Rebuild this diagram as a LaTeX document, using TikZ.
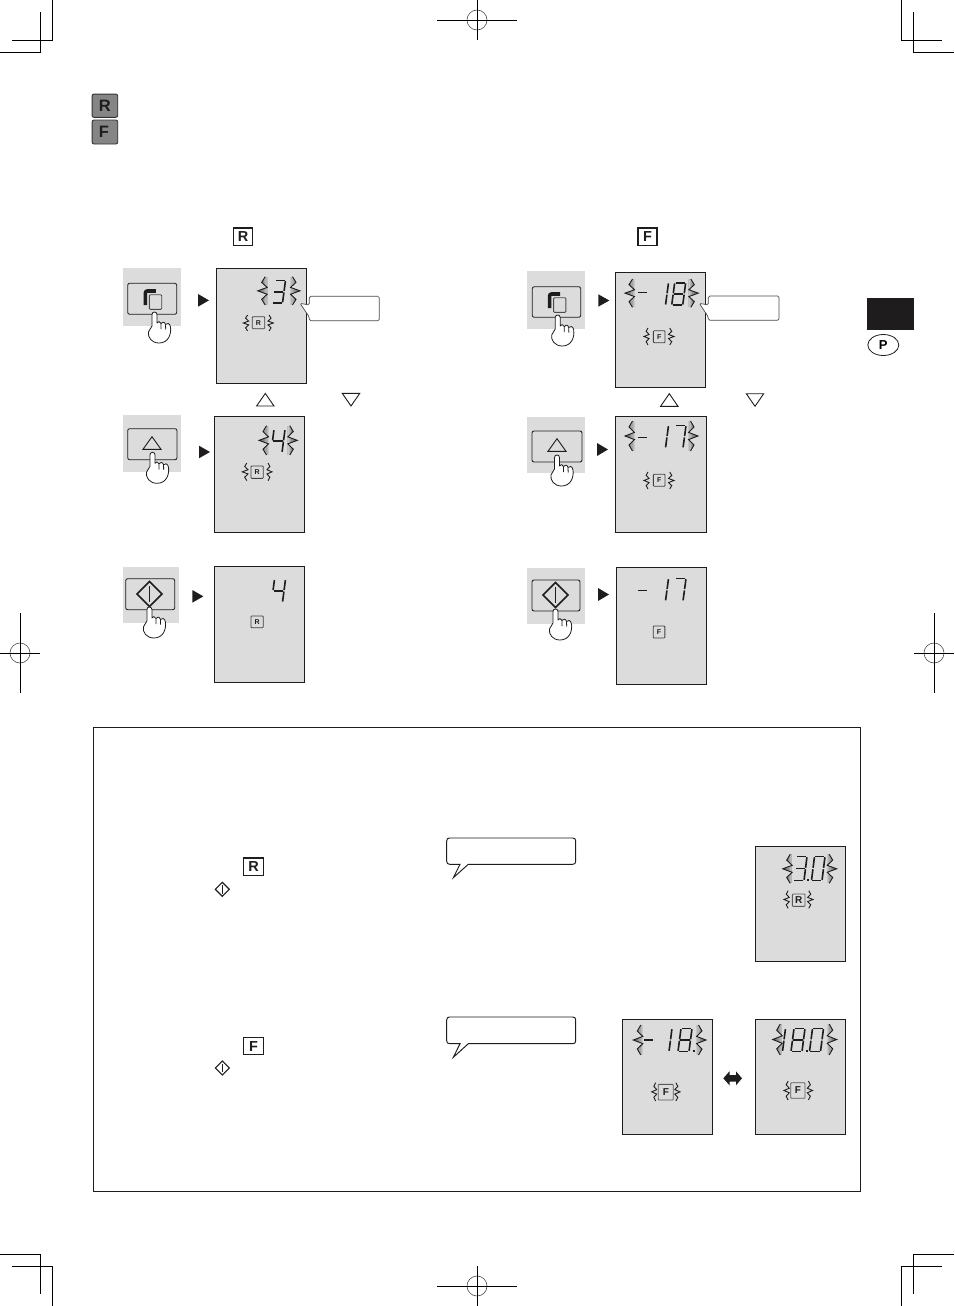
\documentclass[tikz,border=0pt]{standalone}
\usepackage{fontspec}
\setmainfont{Liberation Sans}
\usetikzlibrary{shapes.geometric}
\definecolor{panel}{HTML}{DCDCDC}
\definecolor{glowdark}{HTML}{6E6E6E}
\definecolor{badge}{HTML}{858585}
\definecolor{inkblack}{HTML}{1E1C1C}
\tikzset{
  mark line/.style={draw=black,line width=0.8pt},
  reg circle/.style={draw=black!70,line width=0.6pt},
  lcd/.style={draw=inkblack,fill=panel,line width=0.85pt},
  seg/.style={draw=inkblack,line width=1.6pt,line cap=butt},
  glow line/.style={draw=inkblack,line width=0.9pt,line join=miter},
  keyface/.style={draw=inkblack,fill=panel,line width=0.85pt,rounded corners=2pt},
  keyback/.style={fill=panel,draw=none},
  finger/.style={draw=inkblack,fill=white,line width=0.8pt,line join=round},
  openarrow/.style={draw=inkblack,fill=none,line width=0.9pt,line join=miter},
  playtip/.style={fill=inkblack,draw=none},
  callout/.style={draw=black!70,fill=white,line width=0.7pt,rounded corners=1.5pt},
  bubble/.style={draw=inkblack,fill=white,line width=0.95pt,line join=miter},
  whitekey/.style={draw=inkblack,fill=white,line width=1.2pt,inner sep=0pt,font=\bfseries\fontsize{14.5}{14.5}\selectfont,text=inkblack},
  lcdkey/.style={draw=black!75,fill=panel,line width=0.8pt,rounded corners=0.8pt,inner sep=0pt,text=inkblack,font=\bfseries\fontsize{7}{7}\selectfont},
  lcdkeybig/.style={lcdkey,draw=black!65,font=\bfseries\fontsize{10}{10}\selectfont},
  badgekey/.style={draw=inkblack!90,fill=badge,line width=0.9pt,rounded corners=2pt,inner sep=0pt,text=inkblack,font=\bfseries\fontsize{16.5}{16.5}\selectfont},
}
% seven-segment digit: left, top, width, height, list of lit segments
\newcommand{\segline}[4]{\draw[seg]
  ({\dgx+(\dgw-\dgs)*#1+\dgs*(1-#2)},{\dgy+\dgh*#2}) --
  ({\dgx+(\dgw-\dgs)*#3+\dgs*(1-#4)},{\dgy+\dgh*#4});}
\newcommand{\segA}{\segline{0.08}{0}{0.92}{0}}
\newcommand{\segB}{\segline{1}{0.03}{1}{0.47}}
\newcommand{\segC}{\segline{1}{0.53}{1}{0.97}}
\newcommand{\segD}{\segline{0.08}{1}{0.92}{1}}
\newcommand{\segE}{\segline{0}{0.53}{0}{0.97}}
\newcommand{\segF}{\segline{0}{0.03}{0}{0.47}}
\newcommand{\segG}{\segline{0.08}{0.5}{0.92}{0.5}}
\newcommand{\lcddigit}[5]{%
  \def\dgx{#1}\def\dgy{#2}\def\dgw{#3}\def\dgh{#4}\def\dgs{3}%
  \foreach \sg in {#5} {\csname seg\sg\endcsname}}
% flashing marks beside a value: outer x, inner x, top, bottom
\newcommand{\flickmark}[4]{%
  \begin{scope}[shift={(#1,#3)},x={({(#2-(#1))*1pt},0pt)},y={(0pt,{-(#4-(#3))*1pt})}]
    \draw[glow line] (0.75,0) -- (0.4,0.2) -- (0.95,0.38) -- (0,0.5) -- (0.95,0.62) -- (0.4,0.8) -- (0.75,1);
  \end{scope}}
% the same mark with a stepped glow fading towards the digit
\newcommand{\glowmark}[4]{%
  \begin{scope}[shift={(#1,#3)},x={({(#2-(#1))*1pt},0pt)},y={(0pt,{-(#4-(#3))*1pt})}]
    \begin{scope}
      \clip (0.75,0) -- (0.4,0.2) -- (0.95,0.38) -- (0,0.5) -- (0.95,0.62) -- (0.4,0.8) -- (0.75,1) -- (1,1) -- (1,0) -- cycle;
      \foreach \bu/\bc in {0/100,0.3/85,0.45/70,0.6/50,0.75/35,0.88/18}
        \fill[glowdark!\bc!panel] (\bu,0) rectangle (1,1);
    \end{scope}
    \draw[glow line] (0.75,0) -- (0.4,0.2) -- (0.95,0.38) -- (0,0.5) -- (0.95,0.62) -- (0.4,0.8) -- (0.75,1);
  \end{scope}}
% pointing hand with fingertip at the given point
\newcommand{\tappinghand}[2]{%
  \begin{scope}[shift={(#1,#2)}]
    \draw[finger] (-2.5,14) -- (-2.5,2.5) .. controls (-2.5,-0.8) and (2.5,-0.8) .. (2.5,2.5) -- (2.5,11)
      .. controls (3,9) and (6,9) .. (6.5,11.5)
      .. controls (7,9.5) and (10.5,9.5) .. (11,12.5)
      .. controls (12,10.5) and (15.5,11) .. (16,15)
      .. controls (17,22) and (14,31) .. (4.5,31)
      .. controls (-3,31) and (-7,25) .. (-6,20)
      .. controls (-5.5,17.5) and (-3.5,17) .. (-2.5,14) -- cycle;
    \draw[finger,fill=none] (6.5,11.5) -- (6.6,17) (11,12.5) -- (11.2,17.5);
  \end{scope}}
% key on its grey patch
\newcommand{\keypatch}[8]{%
  \fill[keyback] (#1,#2) rectangle (#3,#4);
  \draw[keyface] (#5,#6) rectangle (#7,#8);}
\newcommand{\copyicon}[2]{%
  \draw[draw=inkblack,line width=3.6pt,rounded corners=2pt] (#1,{#2+14}) -- (#1,#2) -- ({#1+10.5},#2);
  \draw[draw=inkblack!80,fill=panel,line width=0.9pt,rounded corners=1pt] ({#1+4},{#2+3.7}) rectangle ({#1+16.3},{#2+18.3});}
\newcommand{\uptri}[3]{\draw[openarrow] ({#1-#3},{#2+6.3}) -- (#1,{#2-6.3}) -- ({#1+#3},{#2+6.3}) -- cycle;}
\newcommand{\downtri}[3]{\draw[openarrow] ({#1-#3},{#2-6.3}) -- (#1,{#2+6.3}) -- ({#1+#3},{#2-6.3}) -- cycle;}
\newcommand{\powermark}[4]{%
  \draw[draw=inkblack,line width=#4,line join=miter] ({#1-#3},#2) -- (#1,{#2-#3}) -- ({#1+#3},#2) -- (#1,{#2+#3}) -- cycle;
  \draw[draw=inkblack,line width=#4] (#1,{#2-0.62*#3}) -- (#1,{#2+0.62*#3});}
\newcommand{\playtri}[4]{\fill[playtip] (#1,#3) -- (#2,{(#3+#4)/2}) -- (#1,#4) -- cycle;}
% registration target: centre, half length across, half length down
\newcommand{\regmark}[4]{%
  \draw[reg circle] (#1,#2) circle[radius=10pt];
  \draw[mark line] ({#1-#3},#2) -- ({#1+#3},#2) (#1,{#2-#4}) -- (#1,{#2+#4});}
\begin{document}
\begin{tikzpicture}[x=1pt,y=-1pt]
\useasboundingbox (0,0) rectangle (954,1306);
\fill[white] (0,0) rectangle (954,1306);

% trim marks
\draw[mark line] (52,0) -- (52,40) -- (12,40) (40,12) -- (40,52) -- (0,52);
\draw[mark line] (901,0) -- (901,40) -- (942,40) (913,12) -- (913,52) -- (954,52);
\draw[mark line] (0,1254) -- (40,1254) -- (40,1294) (12,1266) -- (52,1266) -- (52,1306);
\draw[mark line] (954,1254) -- (913,1254) -- (913,1294) (942,1266) -- (901,1266) -- (901,1306);
\regmark{477}{20}{40}{20}
\regmark{477}{1286}{40}{20}
\regmark{20}{653}{20}{40}
\regmark{934}{653}{20}{40}

% section badges
\node[badgekey,minimum width=25.7pt,minimum height=23.3pt] (badgeR) at (104.9,105.7) {R};
\node[badgekey,minimum width=25.7pt,minimum height=24pt] (badgeF) at (104.9,132) {\hspace*{-2pt}F};

% language tab
\fill[inkblack] (867,298) rectangle (913.7,330);
\node[ellipse,draw=inkblack,line width=0.8pt,minimum width=31pt,minimum height=21pt,inner sep=0pt,font=\bfseries\fontsize{13}{13}\selectfont] (tabP) at (883.3,345) {P};

% column headings
\node[whitekey,minimum width=19pt,minimum height=17.3pt] (headR) at (243.2,236.7) {R};
\node[whitekey,minimum width=19pt,minimum height=17.3pt] (headF) at (647.5,236.7) {F};

%%% left column
\keypatch{123}{268}{181}{326}{127.7}{283.3}{176.7}{314.3}
\copyicon{145.4}{291}
\tappinghand{154.5}{312}
\playtri{198}{209}{294}{306.7}
\draw[lcd] (216,268.3) rectangle (306,383.3);
\glowmark{257.7}{267.7}{276.7}{305}
\glowmark{300}{290}{276.7}{305}
\lcddigit{272}{280.5}{13.5}{22.5}{A,B,C,D,G}
\node[lcdkey,minimum width=12.4pt,minimum height=12pt] (keyR1) at (258.5,322.7) {R};
\flickmark{243.3}{249}{315}{331}
\flickmark{273.3}{267.7}{315}{331}
\draw[callout] (309.3,305) -- (309.3,296.3) -- (379.3,296.3) -- (379.3,320.7) -- (309.3,320.7) -- (309.3,317) -- (300,303.3) -- cycle;

\uptri{265.3}{399.7}{8.7}
\downtri{351}{399.7}{8.7}

\keypatch{123}{414.7}{181}{471.7}{127.7}{428.7}{177}{459.7}
\uptri{152}{443}{9}
\tappinghand{152.5}{452.3}
\playtri{199}{210}{445.7}{458.3}
\draw[lcd] (214.3,416.3) rectangle (304.3,532.3);
\glowmark{259}{269}{425.7}{455}
\glowmark{297.3}{287.3}{425.7}{455}
\lcddigit{271}{429.5}{14}{23}{B,C,F,G}
\node[lcdkey,minimum width=12.4pt,minimum height=12.3pt] (keyR2) at (257.1,472.2) {R};
\flickmark{242.3}{248.3}{463}{480.7}
\flickmark{272}{266.7}{463}{480.7}

\keypatch{123}{567}{179}{622.7}{125.7}{578.7}{174.7}{609.7}
\powermark{149.5}{594}{12.5}{1.6pt}
\tappinghand{149.4}{607}
\playtri{192.3}{203.3}{590}{602.7}
\draw[lcd] (214.3,566.3) rectangle (304.3,682.3);
\lcddigit{271.5}{579.3}{14}{23}{B,C,F,G}
\node[lcdkey,minimum width=12.4pt,minimum height=11.7pt] (keyR3) at (257.1,621.8) {R};

%%% right column
\keypatch{527}{271}{585}{329}{532.3}{286.7}{580.7}{317.3}
\copyicon{549.6}{294}
\tappinghand{557.7}{315}
\playtri{598.3}{609.3}{294.3}{306.7}
\draw[lcd] (615.3,272.3) rectangle (705.7,387.3);
\glowmark{625}{635}{279}{307.3}
\glowmark{698.3}{688.3}{279}{307.3}
\draw[seg] (637.7,292.5) -- (646.7,292.5);
\lcddigit{654.5}{282.7}{14}{22.5}{B,C}
\lcddigit{671.7}{282.7}{14}{22.5}{A,B,C,D,E,F,G}
\node[lcdkey,minimum width=11.7pt,minimum height=12pt] (keyF1) at (659.2,336.7) {F};
\flickmark{644}{649.3}{328}{345}
\flickmark{674}{668.3}{328}{345}
\draw[callout] (708.3,305) -- (708.3,296) -- (779,296) -- (779,320.3) -- (708.3,320.3) -- (708.3,317) -- (699.3,303.3) -- cycle;

\uptri{669.3}{400}{8.7}
\downtri{755}{400}{8.7}

\keypatch{527}{417}{585}{473}{532}{431}{582}{462}
\uptri{557}{445}{9}
\tappinghand{557}{455}
\playtri{597}{608}{443}{456}
\draw[lcd] (615.3,416.7) rectangle (706.7,532.3);
\glowmark{625}{635}{421}{451}
\glowmark{698}{688}{421}{451}
\draw[seg] (637.7,437.5) -- (646.7,437.5);
\lcddigit{654.5}{425.5}{14}{22.5}{B,C}
\lcddigit{672}{425.5}{14}{22.5}{A,B,C}
\node[lcdkey,minimum width=11.7pt,minimum height=12pt] (keyF2) at (659.2,480.3) {F};
\flickmark{644}{649.3}{472}{489}
\flickmark{674}{668.3}{472}{489}

\keypatch{527}{568}{585}{624}{532}{580}{580}{611}
\powermark{555.5}{595}{12.5}{1.6pt}
\tappinghand{555.5}{609}
\playtri{598}{609}{588}{601}
\draw[lcd] (616,567.3) rectangle (706.7,684);
\draw[seg] (637.7,590.5) -- (646.7,590.5);
\lcddigit{654.5}{578.5}{14}{22.5}{B,C}
\lcddigit{672}{578.5}{14}{22.5}{A,B,C}
\node[lcdkey,minimum width=11.7pt,minimum height=12pt] (keyF3) at (659,632) {F};

%%% framed note
\draw[draw=inkblack,line width=0.7pt] (93.5,727.5) rectangle (860.5,1191.5);

\node[whitekey,minimum width=19.6pt,minimum height=17.7pt] (noteR) at (253.5,866.9) {R};
\powermark{222.3}{889.3}{7}{1.1pt}
\node[whitekey,minimum width=19.6pt,minimum height=17.4pt] (noteF) at (253.5,1046) {F};
\powermark{222.3}{1068}{7}{1.1pt}

\draw[bubble] (460,864.3) -- (453.3,877.7) -- (468.3,864.3) -- (572.7,864.3)
  .. controls (574.7,864.3) and (575.7,863.3) .. (575.7,861.3) -- (575.7,841)
  .. controls (575.7,839) and (574.7,838) .. (572.7,838) -- (449.7,838)
  .. controls (447.7,838) and (446.7,839) .. (446.7,841) -- (446.7,861.3)
  .. controls (446.7,863.3) and (447.7,864.3) .. (449.7,864.3) -- cycle;
\draw[bubble] (460,1043.7) -- (453.3,1057.3) -- (468.3,1043.7) -- (572.7,1043.7)
  .. controls (574.7,1043.7) and (575.7,1042.7) .. (575.7,1040.7) -- (575.7,1020)
  .. controls (575.7,1018) and (574.7,1017) .. (572.7,1017) -- (449.7,1017)
  .. controls (447.7,1017) and (446.7,1018) .. (446.7,1020) -- (446.7,1040.7)
  .. controls (446.7,1042.7) and (447.7,1043.7) .. (449.7,1043.7) -- cycle;

% refrigerator display, 3.0
\draw[lcd] (755.3,846.3) rectangle (845.7,961.3);
\glowmark{782.7}{792.7}{854.3}{883.3}
\glowmark{836.7}{826.7}{854.3}{883.3}
\lcddigit{793.5}{856.5}{13.5}{24}{A,B,C,D,G}
\fill[inkblack] (807,879) rectangle (809,881.2);
\lcddigit{811.5}{856.5}{13.5}{24}{A,B,C,D,E,F}
\node[lcdkeybig,minimum width=12.7pt,minimum height=12.3pt] (keyR4) at (798.7,900.2) {R};
\flickmark{784}{789.5}{890.7}{908.3}
\flickmark{813}{807.3}{890.7}{908.3}

% freezer display, -18.
\draw[lcd] (622.3,1019.3) rectangle (712.3,1134.3);
\glowmark{633.3}{643.3}{1025}{1055}
\glowmark{706}{696}{1025}{1055}
\draw[seg] (644.3,1040) -- (653.3,1040);
\lcddigit{658}{1028.5}{14}{23}{B,C}
\lcddigit{678}{1028.5}{14}{23}{A,B,C,D,E,F,G}
\fill[inkblack] (692.5,1049.7) rectangle (694.5,1051.9);
\node[lcdkeybig,minimum width=15pt,minimum height=15.7pt] (keyF5) at (665.8,1092.2) {F};
\flickmark{651.7}{657}{1082.7}{1101}
\flickmark{680}{674.5}{1082.7}{1101}

% exchange arrow between the two readings
\fill[inkblack] (723.3,1078.3) -- (729.5,1071.3) -- (729.5,1075) -- (736,1075) -- (736,1071.3) -- (742,1078.3) -- (736,1085.3) -- (736,1081.6) -- (729.5,1081.6) -- (729.5,1085.3) -- cycle;

% freezer display, 18.0
\draw[lcd] (755.3,1019.3) rectangle (845.7,1134.3);
\glowmark{772.7}{782.7}{1024}{1055}
\glowmark{836.7}{826.7}{1024}{1055}
\lcddigit{771.5}{1028.5}{14}{23}{B,C}
\lcddigit{791}{1028.5}{14}{23}{A,B,C,D,E,F,G}
\fill[inkblack] (806,1049.7) rectangle (808,1051.9);
\lcddigit{809.5}{1028.5}{14}{23}{A,B,C,D,E,F}
\node[lcdkeybig,minimum width=14.3pt,minimum height=15.6pt] (keyF6) at (797.9,1090.5) {F};
\flickmark{784}{789.5}{1081}{1100}
\flickmark{812.5}{807}{1081}{1100}
\end{tikzpicture}
\end{document}
